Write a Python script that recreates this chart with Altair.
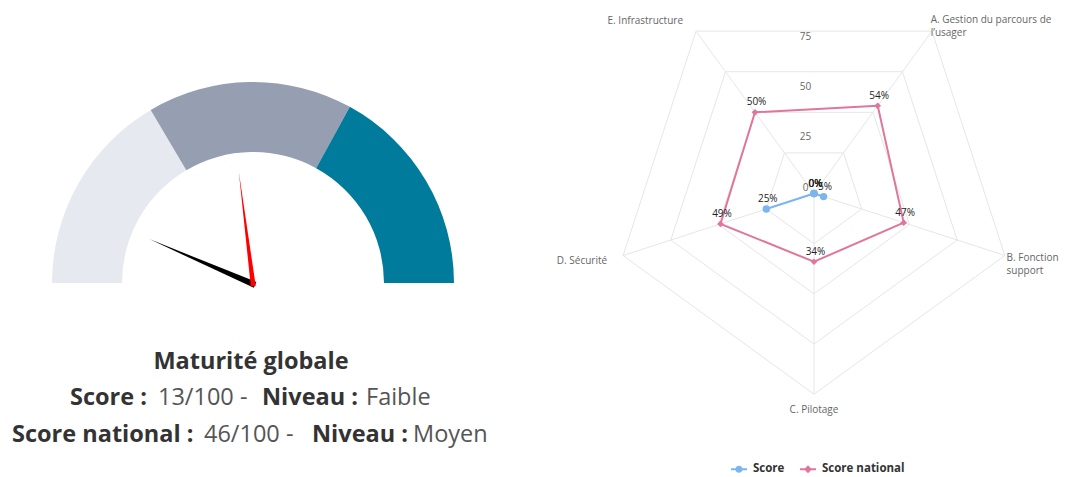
import math
import altair as alt
import pandas as pd

# ---------------- data ----------------
GAUGE_BAND_START = [0, 33, 66]
GAUGE_BAND_END = [33, 66, 100]
GAUGE_BAND_COLORS = ["#e6e9f0", "#959fb1", "#017b9b"]

SCORE_GLOBAL = 13
SCORE_LEVEL = "Faible"
NATIONAL_GLOBAL = 46
NATIONAL_LEVEL = "Moyen"
GAUGE_TITLE = "Maturité globale"

CATEGORIES = ["A. Gestion du parcours de l’usager", "B. Fonction support",
              "C. Pilotage", "D. Sécurité", "E. Infrastructure"]
CATEGORY_LABELS = ["A. Gestion du parcours de\nl’usager", "B. Fonction\nsupport",
                   "C. Pilotage", "D. Sécurité", "E. Infrastructure"]
SERIES = ["Score", "Score national"]
SCORE_VALUES = [0, 5, 0, 25, 0]
NATIONAL_VALUES = [54, 47, 34, 49, 50]
SERIES_COLORS = ["#7cb5ec", "#e0769c"]
GRID_LEVELS = [25, 50, 75, 100]
AXIS_TICKS = [0, 25, 50, 75]

# ---------------- layout ----------------
W1, W2, H = 530, 531, 469
GX, GY = 245, 275          # gauge centre inside left panel
R_OUT, R_IN = 201, 131
NEEDLE_LEN = 113
CX, CY = 276, 185.5        # radar centre inside right panel
K = 200.7 / 100            # px per radar unit

FONT = "Open Sans"
GFS = 23.5                 # gauge caption font size

# ---------------- gauge ----------------
bands = pd.DataFrame({"start": GAUGE_BAND_START, "end": GAUGE_BAND_END,
                      "color": GAUGE_BAND_COLORS})
theta_scale = alt.Scale(domain=[0, 100], range=[1.5 * math.pi, 2.5 * math.pi])
arcs = alt.Chart(bands).mark_arc(outerRadius=R_OUT, innerRadius=R_IN).encode(
    theta=alt.Theta("start:Q", scale=theta_scale, stack=None),
    theta2="end:Q",
    color=alt.Color("color:N", scale=None),
    x=alt.value(GX),
    y=alt.value(GY),
)

angle_scale = alt.Scale(domain=[0, 100], range=[270, 450])


def needle(value, color, half):
    path = f"M{-half},0.02L0,-1L{half},0.02Z"
    return alt.Chart(pd.DataFrame({"value": [value]})).mark_point(
        shape=path, filled=True, size=(2 * NEEDLE_LEN) ** 2, opacity=1,
        strokeWidth=0, color=color,
    ).encode(
        x=alt.value(GX), y=alt.value(GY + 1),
        angle=alt.Angle("value:Q", scale=angle_scale),
    )


needle_score = needle(SCORE_GLOBAL, "#000000", 0.028)
needle_nat = needle(NATIONAL_GLOBAL, "#ff0000", 0.022)

seg_text = ["Score :", f"{SCORE_GLOBAL}/100 -", "Niveau :", SCORE_LEVEL,
            "Score national :", f"{NATIONAL_GLOBAL}/100 -", "Niveau :", NATIONAL_LEVEL]
seg_bold = [True, False, True, False, True, False, True, False]
SEG_X = [62, 150, 254, 358, 4, 196, 304, 405]
SEG_Y = [390, 390, 390, 390, 427, 427, 427, 427]
segs = pd.DataFrame({"text": seg_text, "bold": seg_bold, "px": SEG_X, "py": SEG_Y})

title_txt = alt.Chart(pd.DataFrame({"text": [GAUGE_TITLE]})).mark_text(
    font=FONT, fontSize=GFS, fontWeight="bold", color="#333333",
    align="center", baseline="middle",
).encode(text="text:N", x=alt.value(243), y=alt.value(354))

bold_txt = alt.Chart(segs).transform_filter("datum.bold").mark_text(
    font=FONT, fontSize=GFS, fontWeight="bold", color="#333333",
    align="left", baseline="middle",
).encode(text="text:N", x=alt.X("px:Q", scale=None, axis=None),
         y=alt.Y("py:Q", scale=None, axis=None))

reg_txt = alt.Chart(segs).transform_filter("!datum.bold").mark_text(
    font=FONT, fontSize=GFS, fontWeight="normal", color="#555555",
    align="left", baseline="middle",
).encode(text="text:N", x=alt.X("px:Q", scale=None, axis=None),
         y=alt.Y("py:Q", scale=None, axis=None))

left = alt.layer(arcs, needle_score, needle_nat, title_txt, bold_txt, reg_txt).properties(
    width=W1, height=H)

# ---------------- radar ----------------
xs = alt.Scale(domain=[-CX / K, (W2 - CX) / K], nice=False, zero=False)
ys = alt.Scale(domain=[-(H - CY) / K, CY / K], nice=False, zero=False)
ANG = "(datum.idx * 72 + 36) * PI / 180"

grid_df = pd.DataFrame([{"level": lv, "ord": i, "idx": i % 5, "v": lv}
                        for lv in GRID_LEVELS for i in range(6)])
grid = alt.Chart(grid_df).transform_calculate(
    gx=f"datum.v * sin({ANG})", gy=f"datum.v * cos({ANG})"
).mark_line(color="#e6e6e6", strokeWidth=1).encode(
    x=alt.X("gx:Q", scale=xs, axis=None), y=alt.Y("gy:Q", scale=ys, axis=None),
    detail="level:N", order="ord:Q")

spoke_df = pd.DataFrame({"idx": list(range(5)), "v": [GRID_LEVELS[-1]] * 5})
spokes = alt.Chart(spoke_df).transform_calculate(
    zero="0", ex=f"datum.v * sin({ANG})", ey=f"datum.v * cos({ANG})"
).mark_rule(color="#e6e6e6", strokeWidth=1).encode(
    x=alt.X("zero:Q", scale=xs, axis=None), y=alt.Y("zero:Q", scale=ys, axis=None),
    x2="ex:Q", y2="ey:Q")

tick_df = pd.DataFrame({"v": AXIS_TICKS})
ticks = alt.Chart(tick_df).transform_calculate(
    zero="0", lab="'' + datum.v"
).mark_text(font=FONT, fontSize=10, color="#666666", dx=-8.5, dy=-6).encode(
    x=alt.X("zero:Q", scale=xs, axis=None), y=alt.Y("v:Q", scale=ys, axis=None),
    text="lab:N")

rows = []
for s, vals in zip(SERIES, [SCORE_VALUES, NATIONAL_VALUES]):
    for i in range(6):
        rows.append({"series": s, "ord": i, "idx": i % 5, "v": vals[i % 5]})
ser_df = pd.DataFrame(rows)
color_scale = alt.Scale(domain=SERIES, range=SERIES_COLORS)

base = alt.Chart(ser_df).transform_calculate(
    px=f"datum.v * sin({ANG})", py=f"datum.v * cos({ANG})",
    lab="datum.v + '%'")
enc_xy = dict(x=alt.X("px:Q", scale=xs, axis=None), y=alt.Y("py:Q", scale=ys, axis=None))

series_layers = []
for s, col in zip(SERIES, SERIES_COLORS):
    sb = base.transform_filter(f"datum.series == '{s}'")
    series_layers.append(sb.mark_line(strokeWidth=2, color=col).encode(order="ord:Q", **enc_xy))
for s, col, shp, sz in zip(SERIES, SERIES_COLORS, ["circle", "diamond"], [55, 45]):
    sb = base.transform_filter(f"datum.series == '{s}' && datum.ord < 5")
    series_layers.append(sb.mark_point(shape=shp, filled=True, size=sz, opacity=1,
                                       color=col).encode(**enc_xy))

dlabels = base.transform_filter("datum.ord < 5").mark_text(
    font=FONT, fontSize=10, color="#222222", dx=1.5, dy=-10).encode(
    text="lab:N", **enc_xy)

cat_df = pd.DataFrame({"idx": list(range(5)), "label": CATEGORY_LABELS,
                       "v": [GRID_LEVELS[-1]] * 5})
CAT_STYLE = [("left", "top", -1.3, -16.5), ("left", "top", 1.7, -2.2),
             ("center", "middle", 0, 15.7), ("right", "middle", -16, 5.7),
             ("right", "middle", -13, -10.3)]
cat_layers = []
for i, (al, bl, dx, dy) in enumerate(CAT_STYLE):
    cat_layers.append(
        alt.Chart(cat_df).transform_filter(f"datum.idx == {i}").transform_calculate(
            cx=f"datum.v * sin({ANG})", cy=f"datum.v * cos({ANG})"
        ).mark_text(font=FONT, fontSize=10, color="#666666", align=al, baseline=bl,
                    dx=dx, dy=dy, lineBreak="\n", lineHeight=13).encode(
            x=alt.X("cx:Q", scale=xs, axis=None), y=alt.Y("cy:Q", scale=ys, axis=None),
            text="label:N"))

SYM_CIRCLE = ("M-1,-0.12L1,-0.12L1,0.12L-1,0.12Z"
              "M0.45,0A0.45,0.45,0,1,1,-0.45,0A0.45,0.45,0,1,1,0.45,0Z")
SYM_DIAMOND = "M-1,-0.12L1,-0.12L1,0.12L-1,0.12ZM0,-0.5L0.5,0L0,0.5L-0.5,0Z"
leg = alt.Legend(orient="none", legendX=723, legendY=453, direction="horizontal",
                 title=None, labelFont=FONT, labelFontWeight="bold", labelFontSize=11.5,
                 labelColor="#333333", symbolSize=256, symbolStrokeWidth=0,
                 symbolOpacity=1, labelOffset=6, columnPadding=15)
legend_layer = alt.Chart(pd.DataFrame({"series": SERIES})).mark_point(
    filled=True, opacity=0).encode(
    color=alt.Color("series:N", scale=color_scale, legend=leg),
    shape=alt.Shape("series:N", scale=alt.Scale(domain=SERIES, range=[SYM_CIRCLE, SYM_DIAMOND]),
                    legend=leg))

right = alt.layer(grid, spokes, ticks, *series_layers, dlabels,
                  *cat_layers, legend_layer).properties(width=W2, height=H)

chart = alt.hconcat(left, right, spacing=0).properties(
    padding=0, background="white").configure_view(stroke=None)

chart.save("out.html", embed_options={"renderer": "svg", "actions": False})
